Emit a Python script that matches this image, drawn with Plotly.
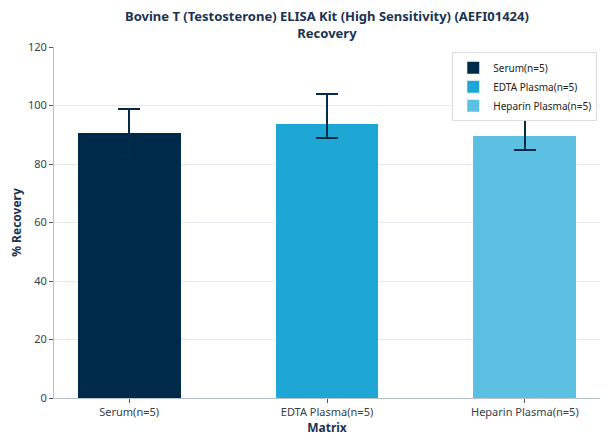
import plotly.graph_objects as go

categories = ["Serum(n=5)", "EDTA Plasma(n=5)", "Heparin Plasma(n=5)"]
recovery = [90.6, 93.6, 89.6]
err_plus = [8.2, 10.2, 13.5]
err_minus = [8.2, 4.7, 4.8]
colors = ["#002A4A", "#1EA6D4", "#5BC0E1"]
reference_line = 100

fig = go.Figure()
for i, cat in enumerate(categories):
    fig.add_trace(go.Bar(
        x=[i], y=[recovery[i]], name=cat, width=0.52,
        marker=dict(color=colors[i], line=dict(width=0)),
        error_y=dict(type="data", array=[err_plus[i]], arrayminus=[err_minus[i]],
                     symmetric=False, color="#032B4A", thickness=2, width=11),
    ))

fig.add_shape(type="line", xref="paper", yref="y", x0=0, x1=1,
              y0=reference_line, y1=reference_line,
              line=dict(color="#7CC3D1", width=1, dash="dash"), layer="below")

fig.add_annotation(
    text="<b>Bovine T (Testosterone) ELISA Kit (High Sensitivity) (AEFI01424)<br>Recovery</b>",
    xref="paper", yref="paper", x=0.5, y=1 + 42 / 351, xanchor="center", yanchor="top",
    showarrow=False, font=dict(size=13, color="#1B3350"), align="center",
)

fig.update_layout(
    width=600, height=436,
    margin=dict(l=46, r=8, t=39, b=46),
    paper_bgcolor="white", plot_bgcolor="white",
    font=dict(family="Noto Sans", size=11, color="#333f4a"),
    showlegend=True,
    legend=dict(x=0.995, y=0.985, xanchor="right", yanchor="top",
                bgcolor="white", bordercolor="#dddddd", borderwidth=1,
                font=dict(size=10, color="#222222"), traceorder="normal",
                tracegroupgap=0, itemwidth=30),
    bargap=0,
)
fig.update_xaxes(
    tickmode="array", tickvals=[0, 1, 2], ticktext=categories,
    range=[-0.38, 2.38], showline=True, linecolor="#b8c2cc", linewidth=1,
    ticks="outside", ticklen=4, tickcolor="#555555", showgrid=False, automargin=False,
    title=dict(text="<b>Matrix</b>", font=dict(size=12, color="#1B3350"), standoff=2),
    tickfont=dict(size=11, color="#333f4a"),
)
fig.update_yaxes(
    range=[0, 120], dtick=20, showline=True, linecolor="#b8c2cc", linewidth=1,
    ticks="outside", ticklen=4, tickcolor="#555555", automargin=False,
    showgrid=True, gridcolor="#e6eaee", gridwidth=1, zeroline=False,
    title=dict(text="<b>% Recovery</b>", font=dict(size=12, color="#1B3350"), standoff=6),
    tickfont=dict(size=11, color="#333f4a"),
)
fig.write_html("out.html")
